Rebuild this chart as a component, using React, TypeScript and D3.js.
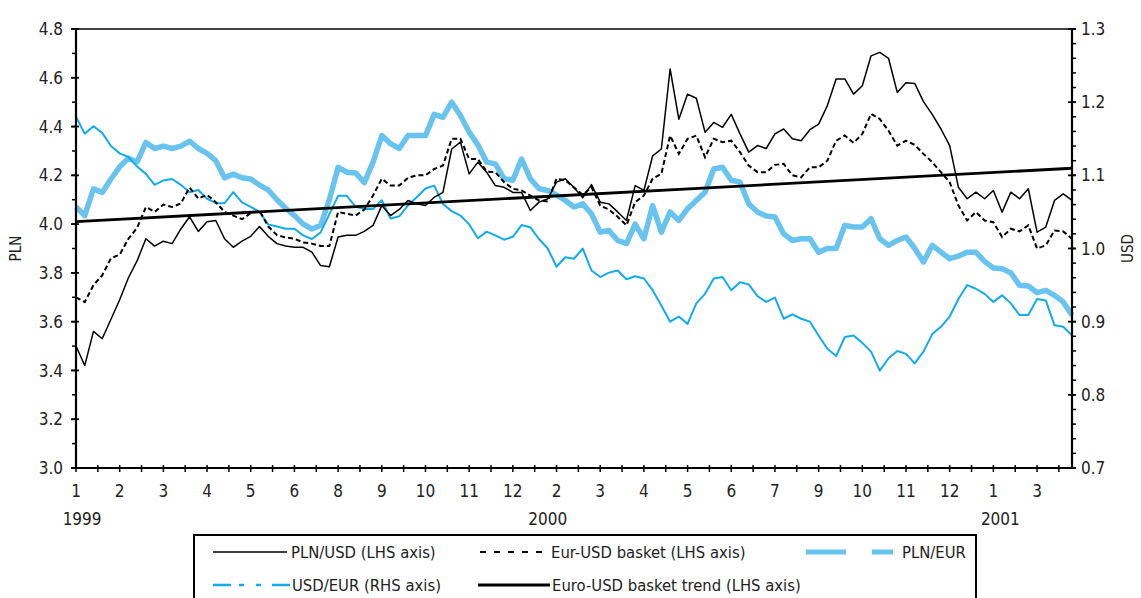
import * as d3 from "d3";

// x positions are trading-period indices; a month label every 5 points
const monthLabels = ["1", "2", "3", "4", "5", "6", "8", "9", "10", "11", "12", "2", "3", "4", "5", "6", "7", "9", "10", "11", "12", "1", "3"];
const yearLabels = ["1999", "2000", "2001"];
const yearAt = [0.7, 54, 105.8];

// PLN/USD (LHS)
const plnUsd = [
  3.5, 3.42, 3.56, 3.53, 3.61, 3.69, 3.78, 3.85, 3.94, 3.91, 3.93, 3.92, 3.98, 4.03, 3.97, 4.01, 4.015, 3.94, 3.905, 3.93, 3.95, 3.99, 3.95, 3.92, 3.91, 3.905, 3.905, 3.885, 3.83, 3.825,
  3.947, 3.954, 3.954, 3.97, 3.995, 4.076, 4.035, 4.06, 4.097, 4.083, 4.076, 4.11, 4.13, 4.308, 4.336, 4.206, 4.254, 4.213, 4.158, 4.151, 4.13, 4.13, 4.056, 4.09, 4.104, 4.172, 4.186, 4.15,
  4.108, 4.162, 4.09, 4.083, 4.05, 4.015, 4.158, 4.138, 4.28, 4.308, 4.636, 4.43, 4.533, 4.516, 4.377, 4.417, 4.397, 4.45, 4.37, 4.295, 4.322, 4.31, 4.37, 4.39, 4.35, 4.342, 4.387, 4.41, 4.486,
  4.595, 4.595, 4.533, 4.567, 4.69, 4.704, 4.68, 4.54, 4.58, 4.577, 4.502, 4.45, 4.39, 4.322, 4.151, 4.104, 4.131, 4.104, 4.138, 4.049, 4.131, 4.104, 4.145, 3.967, 3.988, 4.097, 4.124, 4.097,
];

// Eur-USD basket (LHS)
const basket = [
  3.7, 3.68, 3.75, 3.79, 3.86, 3.875, 3.94, 3.985, 4.07, 4.05, 4.08, 4.07, 4.085, 4.15, 4.105, 4.12, 4.09, 4.05, 4.035, 4.02, 4.045, 4.055, 3.99, 3.955, 3.945, 3.94, 3.925, 3.92, 3.91, 3.91,
  4.05, 4.042, 4.035, 4.06, 4.117, 4.186, 4.158, 4.158, 4.19, 4.2, 4.2, 4.226, 4.24, 4.35, 4.35, 4.267, 4.267, 4.215, 4.213, 4.172, 4.145, 4.138, 4.117, 4.097, 4.093, 4.186, 4.18, 4.15,
  4.12, 4.151, 4.076, 4.06, 4.03, 3.995, 4.09, 4.117, 4.186, 4.206, 4.363, 4.288, 4.35, 4.363, 4.274, 4.35, 4.336, 4.342, 4.295, 4.24, 4.213, 4.213, 4.243, 4.247, 4.2, 4.192, 4.233, 4.233, 4.26,
  4.342, 4.363, 4.333, 4.37, 4.452, 4.431, 4.383, 4.322, 4.342, 4.325, 4.288, 4.254, 4.213, 4.172, 4.076, 4.015, 4.049, 4.015, 4.008, 3.947, 3.981, 3.97, 3.995, 3.9, 3.913, 3.974, 3.97, 3.94,
];

// PLN/EUR (LHS)
const plnEur = [
  4.07, 4.035, 4.145, 4.13, 4.185, 4.235, 4.27, 4.255, 4.335, 4.31, 4.32, 4.31, 4.32, 4.34, 4.31, 4.29, 4.26, 4.19, 4.205, 4.19, 4.185, 4.16, 4.14, 4.1, 4.065, 4.035, 4.0, 3.98, 3.995, 4.1,
  4.233, 4.213, 4.21, 4.17, 4.254, 4.363, 4.33, 4.31, 4.363, 4.363, 4.363, 4.45, 4.438, 4.5, 4.445, 4.377, 4.325, 4.254, 4.247, 4.186, 4.18, 4.267, 4.186, 4.145, 4.138, 4.12, 4.097, 4.07,
  4.083, 4.042, 3.967, 3.974, 3.933, 3.92, 4.0, 3.94, 4.076, 3.967, 4.05, 4.015, 4.063, 4.097, 4.131, 4.226, 4.233, 4.18, 4.172, 4.083, 4.05, 4.033, 4.029, 3.96, 3.933, 3.94, 3.94, 3.885, 3.9,
  3.9, 3.995, 3.988, 3.988, 4.022, 3.94, 3.913, 3.933, 3.947, 3.9, 3.845, 3.913, 3.885, 3.858, 3.869, 3.885, 3.885, 3.847, 3.82, 3.817, 3.8, 3.749, 3.746, 3.719, 3.728, 3.708, 3.681, 3.626,
];

// USD/EUR (RHS)
const usdEur = [
  1.18, 1.157, 1.167, 1.158, 1.14, 1.13, 1.125, 1.112, 1.102, 1.087, 1.093, 1.095, 1.087, 1.077, 1.08, 1.068, 1.062, 1.062, 1.077, 1.063, 1.057, 1.05, 1.033, 1.03, 1.027, 1.027, 1.018, 1.013, 1.022, 1.047,
  1.072, 1.072, 1.057, 1.054, 1.054, 1.066, 1.041, 1.044, 1.059, 1.07, 1.082, 1.086, 1.061, 1.051, 1.045, 1.033, 1.014, 1.023, 1.018, 1.012, 1.016, 1.032, 1.029, 1.013, 1.0, 0.975, 0.988, 0.986,
  1.0, 0.97, 0.961, 0.967, 0.97, 0.958, 0.962, 0.959, 0.943, 0.922, 0.9, 0.907, 0.897, 0.925, 0.938, 0.959, 0.961, 0.943, 0.954, 0.951, 0.935, 0.927, 0.933, 0.904, 0.91, 0.904, 0.9, 0.881, 0.863,
  0.853, 0.879, 0.881, 0.871, 0.859, 0.833, 0.85, 0.86, 0.856, 0.843, 0.859, 0.883, 0.893, 0.907, 0.931, 0.95, 0.945, 0.938, 0.927, 0.936, 0.925, 0.909, 0.909, 0.931, 0.929, 0.895, 0.893, 0.881,
];

// Euro-USD basket trend (LHS), first and last point
const trendAt = [0, 114];
const trendValues = [4.01, 4.229];

const W = 1141;
const H = 598;
const left = 76;
const right = 1072;
const top = 29;
const bottom = 468;
const FONT = "'DejaVu Sans Condensed', 'Liberation Sans Narrow', 'Liberation Sans', sans-serif";
const BLUE_LIGHT = "#68c4ef";
const BLUE = "#12ade8";

export default function App() {
  const x = d3.scaleLinear().domain([0, plnUsd.length - 1]).range([left, right]);
  const yL = d3.scaleLinear().domain([3.0, 4.8]).range([bottom, top]);
  const yR = d3.scaleLinear().domain([0.7, 1.3]).range([bottom, top]);

  const lineL = d3.line<number>().x((_, i) => x(i)).y((d) => yL(d));
  const lineR = d3.line<number>().x((_, i) => x(i)).y((d) => yR(d));
  const trendLine = d3.line<number>().x((_, i) => x(trendAt[i])).y((d) => yL(d));

  const fmt = d3.format(".1f");
  const leftMajor = yL.ticks(9);
  const leftMinor = yL.ticks(18);
  const rightMajor = yR.ticks(6);
  const rightMinor = yR.ticks(30);
  const xTicks = d3.range(0, plnUsd.length - 1, 2.5);

  return (
    <svg width={W} height={H} style={{ position: "absolute", left: 0, top: 0, background: "#fff" }} fontFamily={FONT}>
      {/* series */}
      <path d={lineL(plnEur) ?? ""} fill="none" stroke={BLUE_LIGHT} strokeWidth={5.5} strokeLinejoin="round" />
      <path d={lineR(usdEur) ?? ""} fill="none" stroke={BLUE} strokeWidth={2} strokeLinejoin="round" />
      <path d={lineL(basket) ?? ""} fill="none" stroke="#000" strokeWidth={2} strokeDasharray="5 3" />
      <path d={lineL(plnUsd) ?? ""} fill="none" stroke="#000" strokeWidth={1.5} strokeLinejoin="round" />
      <path d={trendLine(trendValues) ?? ""} fill="none" stroke="#000" strokeWidth={2.8} />

      {/* frame */}
      <line x1={left} x2={right} y1={top} y2={top} stroke="#000" strokeWidth={1.5} />
      <line x1={left} x2={left} y1={top} y2={bottom} stroke="#000" strokeWidth={2.2} />
      <line x1={right} x2={right} y1={top} y2={bottom} stroke="#000" strokeWidth={2.2} />
      <line x1={left} x2={right} y1={bottom} y2={bottom} stroke="#000" strokeWidth={2.2} />

      {/* left axis */}
      {leftMinor.map((t) => (
        <line key={"lm" + t} x1={left - 4} x2={left} y1={yL(t)} y2={yL(t)} stroke="#000" strokeWidth={1.5} />
      ))}
      {leftMajor.map((t) => (
        <g key={"lM" + t}>
          <line x1={left - 5} x2={left + 3} y1={yL(t)} y2={yL(t)} stroke="#000" strokeWidth={1.8} />
          <text x={left - 13} y={yL(t)} dy="0.36em" textAnchor="end" fontSize={17} fill="#222">
            {fmt(t)}
          </text>
        </g>
      ))}
      <text transform={`translate(21,${(top + bottom) / 2}) rotate(-90)`} textAnchor="middle" fontSize={15} fill="#222">
        PLN
      </text>

      {/* right axis */}
      {rightMinor.map((t) => (
        <line key={"rm" + t} x1={right} x2={right + 4} y1={yR(t)} y2={yR(t)} stroke="#000" strokeWidth={1.5} />
      ))}
      {rightMajor.map((t) => (
        <g key={"rM" + t}>
          <line x1={right - 4} x2={right + 4} y1={yR(t)} y2={yR(t)} stroke="#000" strokeWidth={1.8} />
          <text x={right + 9} y={yR(t)} dy="0.36em" textAnchor="start" fontSize={17} fill="#222">
            {fmt(t)}
          </text>
        </g>
      ))}
      <text transform={`translate(1133,${(top + bottom) / 2}) rotate(-90)`} textAnchor="middle" fontSize={15} fill="#222">
        USD
      </text>

      {/* x axis */}
      {xTicks.map((t) => (
        <line key={"xt" + t} x1={x(t)} x2={x(t)} y1={bottom - 3} y2={bottom + 4} stroke="#000" strokeWidth={1.5} />
      ))}
      {monthLabels.map((m, i) => (
        <text key={"ml" + i} x={x(i * 5)} y={bottom + 29} textAnchor="middle" fontSize={17} fill="#222">
          {m}
        </text>
      ))}
      {yearLabels.map((yl, i) => (
        <text key={"yl" + yl} x={x(yearAt[i])} y={bottom + 57} textAnchor="middle" fontSize={17} fill="#222">
          {yl}
        </text>
      ))}

      {/* legend */}
      <rect x={194} y={535} width={782} height={90} fill="none" stroke="#000" strokeWidth={2} />
      <g fontSize={16.5} fill="#222">
        <line x1={213} x2={287} y1={552} y2={552} stroke="#000" strokeWidth={1.5} />
        <text x={291} y={558}>PLN/USD (LHS axis)</text>
        <line x1={480} x2={548} y1={552} y2={552} stroke="#000" strokeWidth={2.2} strokeDasharray="6 8" />
        <text x={551} y={558}>Eur-USD basket (LHS axis)</text>
        <line x1={806} x2={893} y1={552} y2={552} stroke={BLUE_LIGHT} strokeWidth={5} strokeDasharray="40 26 22" />
        <text x={902} y={558}>PLN/EUR</text>
        <line x1={213} x2={290} y1={585} y2={585} stroke={BLUE} strokeWidth={2.5} strokeDasharray="18 8 5 12 5 11 18" />
        <text x={292} y={591}>USD/EUR (RHS axis)</text>
        <line x1={478} x2={550} y1={585} y2={585} stroke="#000" strokeWidth={3} />
        <text x={552} y={591}>Euro-USD basket trend (LHS axis)</text>
      </g>
    </svg>
  );
}
